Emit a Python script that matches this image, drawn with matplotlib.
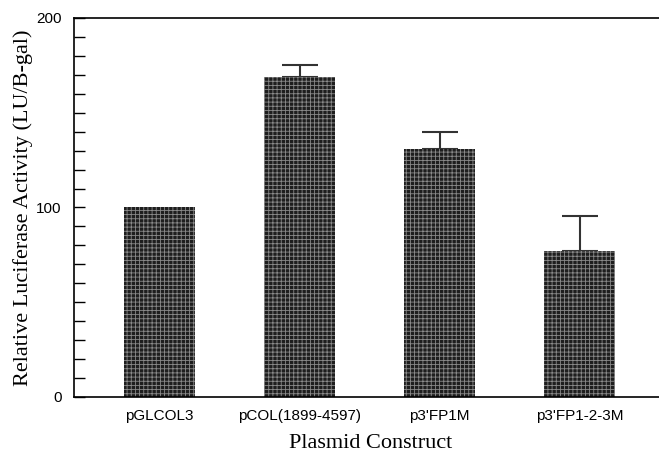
import numpy as np
import matplotlib
matplotlib.use('Agg')
import matplotlib.pyplot as plt

# data
constructs = ['pGLCOL3', 'pCOL(1899-4597)', "p3'FP1M", "p3'FP1-2-3M"]
activity = [100, 169, 131, 77]
err_up = [0, 6, 9, 18.5]

plt.rcParams['hatch.linewidth'] = 0.6

fig = plt.figure(figsize=(6.59, 4.54), dpi=100)
ax = fig.add_axes([0.1123, 0.1256, 0.92, 0.8348])

x = np.arange(len(constructs))
ax.bar(x, activity, width=0.51, color='#1e1e1e', edgecolor='#8a8a8a',
       linewidth=0, hatch='++++', zorder=2)
err_low = [0] * len(err_up)
ax.errorbar(x[1:], activity[1:], yerr=[err_low[1:], err_up[1:]], fmt='none',
            ecolor='#333333', elinewidth=1.5, capsize=13, capthick=1.5, zorder=1)

ax.set_xlim(-0.613, 3.72)
ax.set_ylim(0, 200)
ax.set_yticks([0, 100, 200])
ax.set_yticks(np.arange(0, 201, 10), minor=True)
ax.tick_params(axis='y', which='both', direction='in', length=8, width=1, pad=9,
               labelsize=11)
ax.tick_params(axis='x', length=0, pad=9, labelsize=11)
ax.set_xticks(x)
ax.set_xticklabels(constructs, fontfamily='Liberation Sans')
for lab in ax.get_yticklabels():
    lab.set_fontfamily('Liberation Sans')

ax.spines['right'].set_visible(False)
for s in ['left', 'top', 'bottom']:
    ax.spines[s].set_linewidth(1.2)

ax.set_ylabel('Relative Luciferase Activity (LU/B-gal)', fontfamily='Liberation Serif',
              fontsize=16)
ax.yaxis.set_label_coords(-0.067, 0.5)
ax.set_xlabel('Plasmid Construct', fontfamily='Liberation Serif', fontsize=16)
ax.xaxis.set_label_coords(0.49, -0.097)

fig.savefig('out.png', dpi=100)
